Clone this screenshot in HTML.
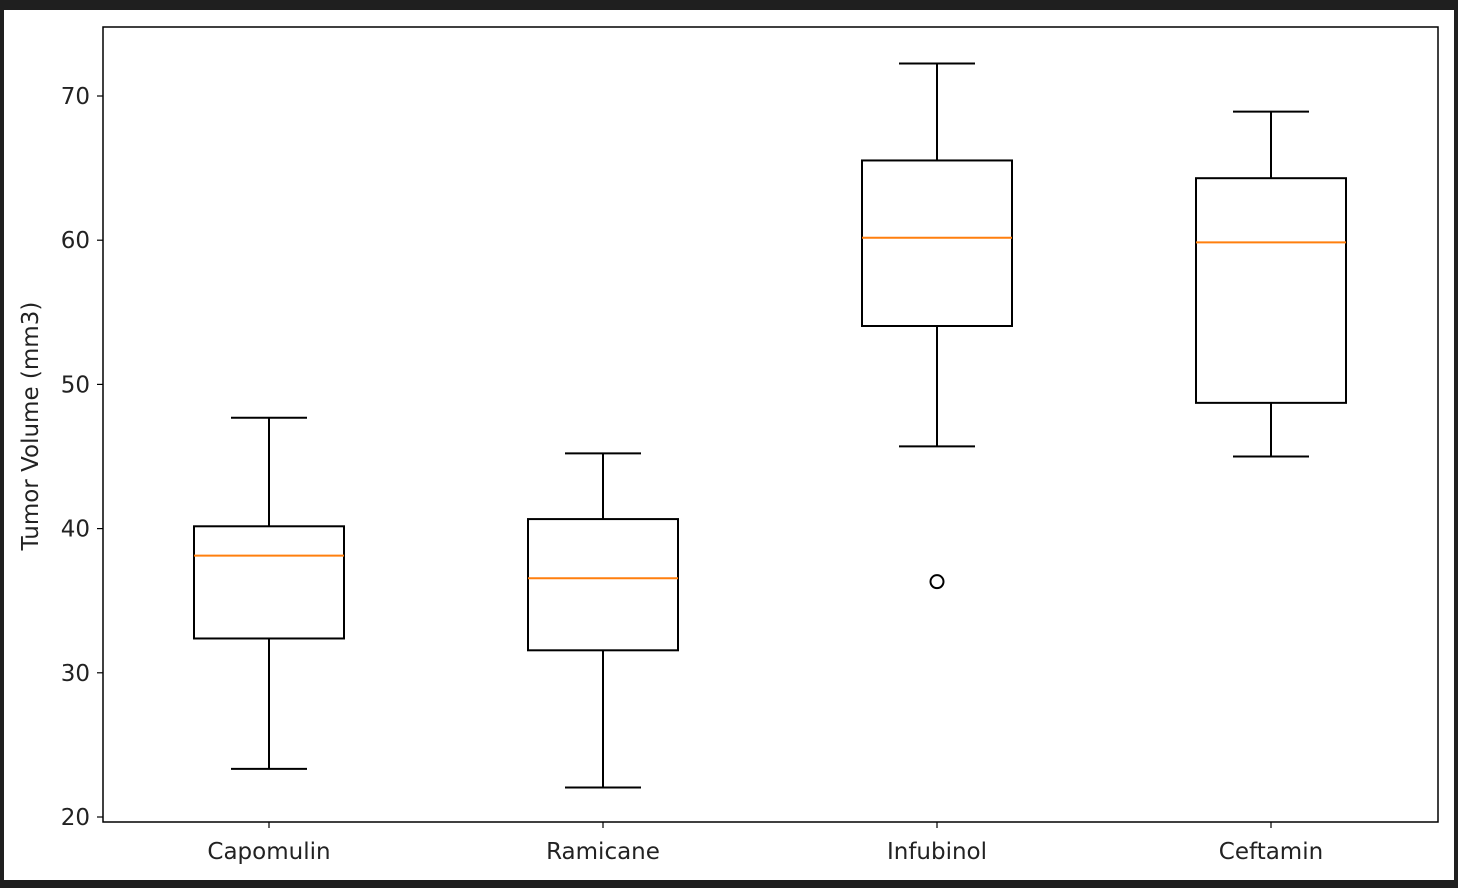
<!DOCTYPE html>
<html><head><meta charset="utf-8"><style>
html,body{margin:0;padding:0;background:#1f1f1f;}
#wrap{position:absolute;left:4px;top:10px;width:1450px;height:870px;background:#fff;}
svg{position:absolute;left:0;top:0;}
text{font-family:"DejaVu Sans","Liberation Sans",sans-serif;font-size:23px;fill:#222;}
</style></head><body>
<div id="wrap"></div>
<svg id="chart" width="1458" height="888"></svg>
<script>
const categories=["Capomulin","Ramicane","Infubinol","Ceftamin"];
const whiskerLow=[23.34,22.05,45.70,45.00];
const q1=[32.38,31.56,54.05,48.72];
const medians=[38.13,36.56,60.17,59.85];
const q3=[40.16,40.66,65.53,64.30];
const whiskerHigh=[47.69,45.22,72.25,68.92];
const outlierCat=[2];
const outlierVal=[36.32];
const yTicks=[20,30,40,50,60,70];

const NS="http://www.w3.org/2000/svg";
const svg=document.getElementById('chart');
const L=103,R=1438,T=27,B=822;
function y(v){return 817-(v-20)*14.42;}
function x(i){return 269+i*334;}
function el(t,a,p){const e=document.createElementNS(NS,t);for(const k in a)e.setAttribute(k,a[k]);(p||svg).appendChild(e);return e;}
const frame=el('rect',{x:L,y:T,width:R-L,height:B-T,fill:'none',stroke:'#000','stroke-width':1.5});


yTicks.forEach(v=>{
  const tk=el('line',{x1:L-6,x2:L,y1:y(v),y2:y(v),stroke:'#000','stroke-width':1.2});
  
  
  const t=el('text',{x:L-13,y:y(v)+8,'text-anchor':'end'});t.textContent=v;
  
  
});
const yl=el('text',{x:38,y:426,'text-anchor':'middle',transform:'rotate(-90 38 426)'});yl.textContent='Tumor Volume (mm3)';


categories.forEach((c,i)=>{
  const cx=x(i);
  const g=el('g',{});
  
  
  const s={stroke:'#000','stroke-width':2,fill:'none'};
  el('line',Object.assign({x1:cx,x2:cx,y1:y(whiskerHigh[i]),y2:y(q3[i])},s),g);
  el('line',Object.assign({x1:cx,x2:cx,y1:y(q1[i]),y2:y(whiskerLow[i])},s),g);
  el('line',Object.assign({x1:cx-38,x2:cx+38,y1:y(whiskerHigh[i]),y2:y(whiskerHigh[i])},s),g);
  el('line',Object.assign({x1:cx-38,x2:cx+38,y1:y(whiskerLow[i]),y2:y(whiskerLow[i])},s),g);
  el('rect',Object.assign({x:cx-75,width:150,y:y(q3[i]),height:y(q1[i])-y(q3[i])},s),g);
  el('line',{x1:cx-75,x2:cx+75,y1:y(medians[i]),y2:y(medians[i]),stroke:'#ff7f0e','stroke-width':2},g);
  const tk=el('line',{x1:cx,x2:cx,y1:B,y2:B+6,stroke:'#000','stroke-width':1.2});
  
  
  const t=el('text',{x:cx,y:B+37,'text-anchor':'middle'});t.textContent=c;
  
  
});
outlierCat.forEach((ci,k)=>{
  const o=el('circle',{cx:x(ci),cy:y(outlierVal[k]),r:6.5,fill:'none',stroke:'#000','stroke-width':2});
  
  
});
</script>
</body></html>
